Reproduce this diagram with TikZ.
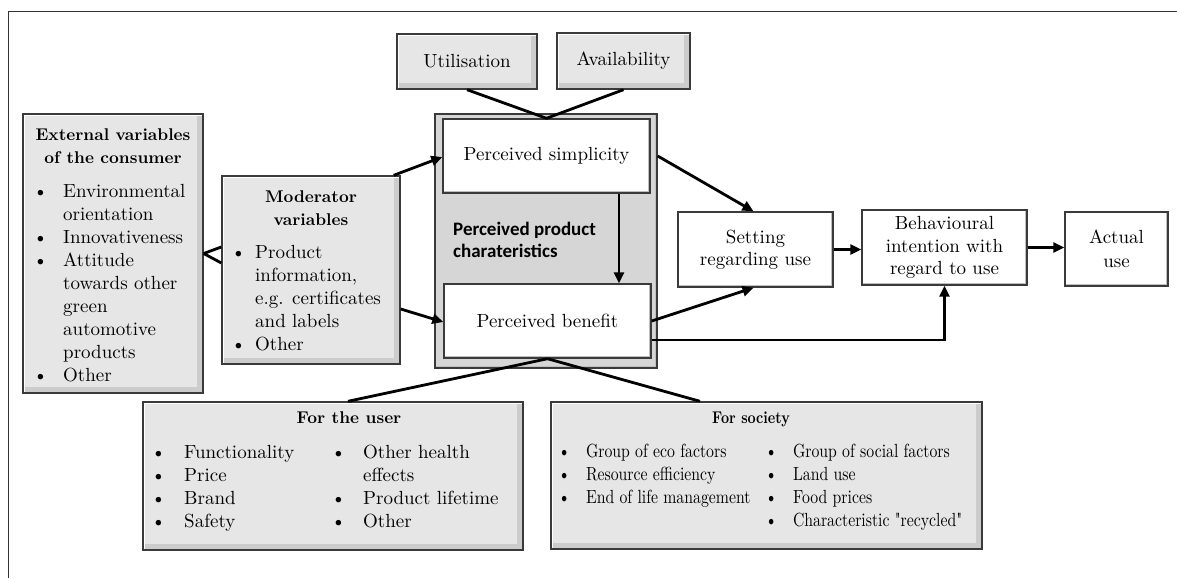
\documentclass[tikz,border=0pt]{standalone}
\usepackage{fontspec}
\usepackage{graphicx}
\setmainfont{lmroman10}[Extension=.otf, UprightFont=*-regular, BoldFont=*-bold,
  ItalicFont=*-italic, BoldItalicFont=*-bolditalic]
\newfontfamily\labelsans{Carlito}
\usetikzlibrary{arrows.meta,calc}

\definecolor{boxgray}{HTML}{E6E6E6}
\definecolor{groupgray}{HTML}{D6D6D6}
\definecolor{edgegray}{HTML}{3A3A3A}

\newcommand\bodysize{\fontsize{19}{23}\selectfont}
\newcommand\headsize{\fontsize{17}{23}\selectfont\bfseries}

\tikzset{
  bevel/.style={path picture={
      \draw[black!42,line width=6pt]
        (path picture bounding box.north east) -- (path picture bounding box.south east)
        -- (path picture bounding box.south west);
      \draw[black!20,line width=9pt]
        ([xshift=-1.5pt,yshift=1.5pt]path picture bounding box.north east)
        -- ([xshift=-1.5pt,yshift=1.5pt]path picture bounding box.south east)
        -- ([xshift=-1.5pt,yshift=1.5pt]path picture bounding box.south west);
      \draw[white,line width=4pt]
        (path picture bounding box.south west) -- (path picture bounding box.north west)
        -- (path picture bounding box.north east);}},
  softbevel/.style={path picture={
      \draw[black!25,line width=5pt]
        (path picture bounding box.north east) -- (path picture bounding box.south east)
        -- (path picture bounding box.south west);}},
  greybox/.style={draw=edgegray, line width=1.4pt, fill=boxgray, bevel,
    inner sep=0pt, align=center, font=\bodysize},
  whitebox/.style={draw=edgegray, line width=1.4pt, fill=white, softbevel,
    inner sep=0pt, align=center, font=\bodysize},
  groupbox/.style={draw=edgegray, line width=1.2pt, fill=groupgray, softbevel, inner sep=0pt},
  txt/.style={inner sep=0pt, font=\bodysize},
  conn/.style={line width=2.8pt, black},
  arr/.style={conn, -{Triangle[length=11pt,width=10pt]}},
}

\begin{document}
\begin{tikzpicture}[x=1pt,y=-1pt]
\useasboundingbox (0,0) rectangle (1177,578);

% page frame (top and left rules)
\draw[black!80,line width=1.3pt] (8.5,578) -- (8.5,11.5) -- (1177,11.5);

% top factors
\node[greybox, minimum width=140pt, minimum height=55pt] (util) at (467,61.5) {Utilisation};
\node[greybox, minimum width=133pt, minimum height=56pt] (avail) at (623.5,61) {Availability};

% perceived product characteristics group
\node[groupbox, minimum width=222pt, minimum height=254pt] (grp) at (546,241) {};
\node[whitebox, minimum width=207pt, minimum height=74pt] (simp) at (546.5,156) {Perceived simplicity};
\node[whitebox, minimum width=207pt, minimum height=74pt] (ben) at (547.5,321) {Perceived benefit};
\node[inner sep=0pt, anchor=base west, font={\labelsans\bfseries\fontsize{19}{22}\selectfont}] (grplabel) at (453,235)
  {\begin{tabular}[t]{@{}l@{}}Perceived product\\charateristics\end{tabular}};

% external variables
\node[greybox, minimum width=180pt, minimum height=279pt] (ext) at (113,253.5) {};
\node[inner sep=0pt, anchor=base, font=\headsize] (exthead) at (113,140)
  {\begin{tabular}[t]{@{}c@{}}External variables\\of the consumer\end{tabular}};
\node[txt, anchor=base west] (extlist) at (33,197)
  {\begin{tabular}[t]{@{}p{30pt}@{}l@{}}
   \textbullet & Environmental\\
               & orientation\\
   \textbullet & Innovativeness\\
   \textbullet & Attitude\\
               & towards other\\
               & green\\
               & automotive\\
               & products\\
   \textbullet & Other
   \end{tabular}};

% moderator variables
\node[greybox, minimum width=178pt, minimum height=188pt] (mod) at (311,270) {};
\node[inner sep=0pt, anchor=base, font=\headsize] (modhead) at (311,202)
  {\begin{tabular}[t]{@{}c@{}}Moderator\\variables\end{tabular}};
\node[txt, anchor=base west] (modlist) at (231,258)
  {\begin{tabular}[t]{@{}p{24pt}@{}l@{}}
   \textbullet & Product\\
               & information,\\
               & e.g. certificates\\
               & and labels\\
   \textbullet & Other
   \end{tabular}};

% use chain
\node[whitebox, minimum width=155pt, minimum height=75pt, font={\fontsize{19}{22}\selectfont}] (set) at (755.5,249.5) {Setting\\regarding use};
\node[whitebox, minimum width=165pt, minimum height=75pt, font={\fontsize{19}{22.5}\selectfont}] (beh) at (944.5,247.5) {Behavioural\\intention with\\regard to use};
\node[whitebox, minimum width=103pt, minimum height=74pt, font={\fontsize{19}{24}\selectfont}] (act) at (1116.5,249) {Actual\\use};

% benefit for the user
\node[greybox, minimum width=380pt, minimum height=148pt] (user) at (333,476) {};
\node[inner sep=0pt, anchor=base, font=\headsize] (userhead) at (349,423) {For the user};
\node[txt, anchor=base west] (userlistA) at (151,458)
  {\begin{tabular}[t]{@{}p{33pt}@{}l@{}}
   \textbullet & Functionality\\
   \textbullet & Price\\
   \textbullet & Brand\\
   \textbullet & Safety
   \end{tabular}};
\node[txt, anchor=base west] (userlistB) at (331,458)
  {\begin{tabular}[t]{@{}p{32pt}@{}l@{}}
   \textbullet & Other health\\
               & effects\\
   \textbullet & Product lifetime\\
   \textbullet & Other
   \end{tabular}};

% benefit for society
\node[greybox, minimum width=431pt, minimum height=147pt] (soc) at (766.5,475.5) {};
\node[inner sep=0pt, anchor=base, font=\headsize] (sochead) at (751,423) {\scalebox{0.83}[1]{For society}};
\node[txt, anchor=base west] (soclistA) at (558,457)
  {\scalebox{0.83}[1]{\begin{tabular}[t]{@{}p{33.5pt}@{}l@{}}
   \textbullet & Group of eco factors\\
   \textbullet & Resource efficiency\\
   \textbullet & End of life management
   \end{tabular}}};
\node[txt, anchor=base west] (soclistB) at (765,457)
  {\scalebox{0.83}[1]{\begin{tabular}[t]{@{}p{33.5pt}@{}l@{}}
   \textbullet & Group of social factors\\
   \textbullet & Land use\\
   \textbullet & Food prices\\
   \textbullet & Characteristic \textquotedbl recycled\textquotedbl
   \end{tabular}}};

% connectors
\draw[conn, line join=round] (util.south) -- (simp.north) -- (avail.south);
\draw[conn] (ext.east) -- ($(mod.west)+(0,-23)$);
\draw[conn] (ext.east) -- ($(mod.west)+(0,-7)$);
\draw[arr] ($(mod.north east)+(-7,0)$) -- ($(simp.west)+(0,1)$);
\draw[arr] ($(mod.east)+(0,39)$) -- ($(ben.west)+(0,1)$);
\draw[arr] ($(simp.south)+(72.5,0)$) coordinate (sdrop) -- (sdrop |- ben.north);
\draw[arr] ($(simp.east)+(7,0)$) -- ($(set.north)+(-2,0)$);
\draw[arr] (ben.east) -- ($(set.south)+(-2,0)$);
\draw[arr] ($(ben.east)+(0,19)$) -| (beh.south);
\draw[arr] (set.east) -- (set.east -| beh.west);
\draw[arr] (beh.east) -- (beh.east -| act.west);
\draw[conn] (ben.south) -- ($(user.north)+(15,0)$);
\draw[conn] (ben.south) -- ($(soc.north)+(-66.5,0)$);
\end{tikzpicture}
\end{document}
